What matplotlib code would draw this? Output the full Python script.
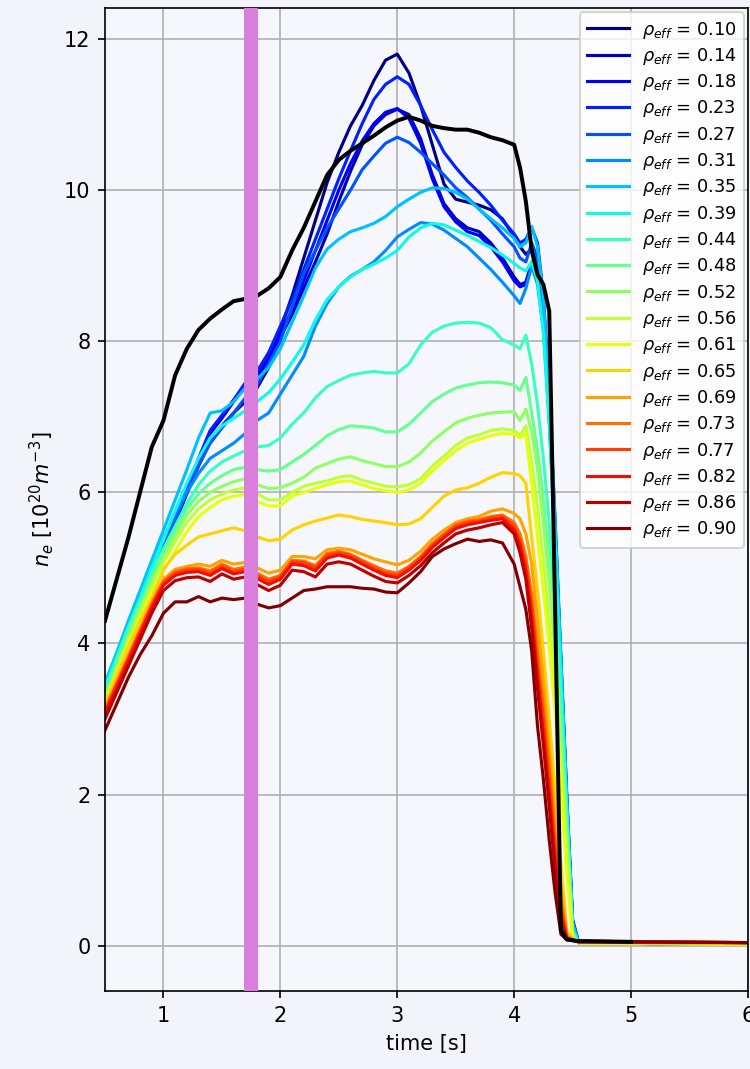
import numpy as np
import matplotlib
matplotlib.use("Agg")
import matplotlib.pyplot as plt

nan = np.nan

# time base [s]
time_s = [0.5, 0.6, 0.7, 0.8, 0.9, 1.0, 1.1, 1.2, 1.3, 1.4,
          1.5, 1.6, 1.7, 1.8, 1.9, 2.0, 2.1, 2.2, 2.3, 2.4,
          2.5, 2.6, 2.7, 2.8, 2.9, 3.0, 3.1, 3.2, 3.3, 3.4,
          3.5, 3.6, 3.7, 3.8, 3.9,
          4.0, 4.05, 4.1, 4.15, 4.2, 4.25, 4.3, 4.35, 4.4, 4.45, 4.5, 4.55, 4.6,
          5.0, 6.0]

rho_eff = [0.10, 0.14, 0.18, 0.23, 0.27, 0.31, 0.35, 0.39, 0.44, 0.48,
           0.52, 0.56, 0.61, 0.65, 0.69, 0.73, 0.77, 0.82, 0.86, 0.90]

# line integrated density (black trace)
ne_line = [4.30, 4.85, 5.40, 6.00, 6.60, 6.95, 7.55, 7.90, 8.15, 8.30,
           8.42, 8.53, 8.56, 8.60, 8.70, 8.85, 9.20, 9.50, 9.85, 10.20,
           10.40, 10.52, 10.62, 10.72, 10.83, 10.92, 10.97, 10.92, 10.85, 10.82,
           10.80, 10.80, 10.76, 10.70, 10.66,
           10.60, 10.30, 9.85, 9.20, 8.88, 8.75, 8.40, 4.50, 0.20, 0.08, 0.07, 0.06, 0.06,
           0.05, nan]

# profiles at each rho_eff
ne_010 = [3.35, 3.72, 4.10, 4.48, 4.85, 5.22, 5.60, 5.98, 6.35, 6.70,
          6.88, 7.05, 7.20, 7.38, 7.65, 8.15, 8.60, 9.10, 9.60, 10.10,
          10.50, 10.85, 11.12, 11.45, 11.72, 11.80, 11.55, 11.12, 10.60, 10.08,
          9.88, 9.84, 9.80, 9.74, 9.62,
          9.38, 9.25, 9.15, 9.22, 9.00, 8.35, 7.10, 5.50, 3.70, 1.90, 0.30, 0.05, 0.03,
          0.03, 0.02]
ne_014 = [3.32, 3.70, 4.08, 4.46, 4.84, 5.22, 5.60, 6.00, 6.40, 6.78,
          6.98, 7.20, 7.40, 7.52, 7.75, 8.05, 8.35, 8.70, 9.05, 9.42,
          9.85, 10.25, 10.60, 10.85, 11.00, 11.07, 11.00, 10.68, 10.20, 9.82,
          9.62, 9.50, 9.45, 9.30, 9.10,
          8.85, 8.75, 8.78, 9.05, 8.90, 8.30, 7.05, 5.45, 3.65, 1.85, 0.25, 0.04, 0.03,
          0.03, 0.02]
ne_018 = [3.33, 3.71, 4.09, 4.47, 4.85, 5.23, 5.62, 6.02, 6.42, 6.80,
          7.00, 7.22, 7.42, 7.55, 7.80, 8.10, 8.42, 8.80, 9.20, 9.60,
          10.00, 10.35, 10.65, 10.88, 11.03, 11.08, 10.95, 10.62, 10.15, 9.78,
          9.58, 9.45, 9.40, 9.25, 9.05,
          8.80, 8.72, 8.75, 9.00, 8.85, 8.25, 7.00, 5.40, 3.60, 1.80, 0.25, 0.04, 0.03,
          0.03, 0.02]
ne_023 = [3.34, 3.72, 4.10, 4.48, 4.86, 5.25, 5.65, 6.05, 6.45, 6.82,
          7.02, 7.22, 7.45, 7.60, 7.85, 8.20, 8.55, 8.95, 9.35, 9.75,
          10.15, 10.52, 10.88, 11.20, 11.40, 11.50, 11.40, 11.12, 10.80, 10.50,
          10.30, 10.12, 9.97, 9.80, 9.60,
          9.42, 9.30, 9.35, 9.50, 9.30, 8.60, 7.30, 5.65, 3.80, 2.00, 0.35, 0.05, 0.03,
          0.03, 0.02]
ne_027 = [3.35, 3.73, 4.11, 4.50, 4.88, 5.26, 5.63, 6.00, 6.35, 6.65,
          6.85, 7.05, 7.25, 7.42, 7.70, 8.00, 8.45, 8.90, 9.20, 9.50,
          9.75, 10.00, 10.27, 10.45, 10.62, 10.70, 10.63, 10.50, 10.35, 10.20,
          10.03, 9.90, 9.75, 9.60, 9.42,
          9.25, 9.10, 9.05, 9.30, 9.10, 8.45, 7.20, 5.55, 3.75, 1.95, 0.30, 0.04, 0.03,
          0.03, 0.02]
ne_031 = [3.40, 3.80, 4.20, 4.60, 5.00, 5.38, 5.72, 6.00, 6.25, 6.45,
          6.55, 6.65, 6.78, 6.95, 7.05, 7.30, 7.55, 7.80, 8.20, 8.50,
          8.72, 8.86, 8.95, 9.05, 9.20, 9.38, 9.48, 9.57, 9.55, 9.47,
          9.36, 9.25, 9.10, 8.95, 8.78,
          8.60, 8.50, 8.70, 9.00, 8.75, 8.15, 6.95, 5.35, 3.55, 1.75, 0.20, 0.04, 0.03,
          0.03, 0.02]
ne_035 = [3.48, 3.88, 4.30, 4.70, 5.10, 5.50, 5.90, 6.30, 6.72, 7.05,
          7.08, 7.20, 7.38, 7.50, 7.65, 7.90, 8.25, 8.60, 8.97, 9.22,
          9.35, 9.45, 9.50, 9.56, 9.65, 9.78, 9.88, 9.97, 10.03, 10.02,
          9.97, 9.88, 9.75, 9.62, 9.50,
          9.36, 9.25, 9.30, 9.52, 9.25, 8.55, 7.25, 5.60, 3.80, 1.95, 0.30, 0.04, 0.03,
          0.03, 0.02]
ne_039 = [3.42, 3.82, 4.22, 4.60, 5.00, 5.38, 5.76, 6.12, 6.45, 6.72,
          6.88, 6.98, 7.08, 7.20, 7.32, 7.50, 7.72, 7.95, 8.28, 8.55,
          8.72, 8.85, 8.95, 9.02, 9.10, 9.20, 9.38, 9.50, 9.56, 9.54,
          9.47, 9.40, 9.32, 9.24, 9.14,
          9.03, 8.97, 8.93, 9.05, 8.80, 8.10, 6.90, 5.30, 3.55, 1.80, 0.20, 0.04, 0.03,
          0.03, 0.02]
ne_044 = [3.36, 3.78, 4.20, 4.55, 4.92, 5.25, 5.55, 5.85, 6.10, 6.28,
          6.40, 6.48, 6.55, 6.60, 6.62, 6.72, 6.90, 7.05, 7.25, 7.40,
          7.48, 7.55, 7.58, 7.60, 7.58, 7.58, 7.70, 7.95, 8.12, 8.20,
          8.24, 8.25, 8.24, 8.18, 8.02,
          7.95, 7.90, 8.08, 7.70, 7.15, 6.45, 5.60, 4.50, 3.20, 1.70, 0.20, 0.04, 0.03,
          0.03, 0.02]
ne_048 = [3.30, 3.72, 4.12, 4.50, 4.86, 5.20, 5.50, 5.78, 5.98, 6.12,
          6.22, 6.30, 6.33, 6.30, 6.28, 6.30, 6.40, 6.50, 6.62, 6.75,
          6.83, 6.88, 6.87, 6.85, 6.80, 6.80, 6.90, 7.05, 7.20, 7.30,
          7.38, 7.42, 7.45, 7.46, 7.45,
          7.42, 7.35, 7.52, 7.05, 6.55, 5.90, 5.10, 4.10, 2.90, 1.50, 0.15, 0.04, 0.03,
          0.03, 0.02]
ne_052 = [3.27, 3.68, 4.08, 4.45, 4.80, 5.12, 5.42, 5.70, 5.88, 6.00,
          6.08, 6.14, 6.18, 6.10, 6.05, 6.06, 6.12, 6.20, 6.32, 6.38,
          6.44, 6.47, 6.42, 6.38, 6.34, 6.34, 6.40, 6.52, 6.68, 6.80,
          6.92, 6.98, 7.02, 7.05, 7.06,
          7.07, 6.95, 7.10, 6.80, 6.30, 5.60, 4.80, 3.90, 2.70, 1.35, 0.12, 0.04, 0.03,
          0.03, 0.02]
ne_056 = [3.24, 3.64, 4.03, 4.40, 4.75, 5.07, 5.35, 5.60, 5.78, 5.90,
          5.98, 6.03, 6.06, 5.98, 5.90, 5.90, 6.00, 6.08, 6.12, 6.15,
          6.20, 6.22, 6.16, 6.12, 6.08, 6.07, 6.10, 6.18, 6.35, 6.48,
          6.62, 6.72, 6.76, 6.82, 6.84,
          6.82, 6.75, 6.88, 6.40, 5.80, 5.10, 4.30, 3.45, 2.40, 1.15, 0.10, 0.04, 0.03,
          0.03, 0.02]
ne_061 = [3.22, 3.60, 3.98, 4.33, 4.66, 4.96, 5.22, 5.48, 5.68, 5.80,
          5.90, 5.95, 5.97, 5.88, 5.82, 5.82, 5.95, 6.00, 6.05, 6.10,
          6.14, 6.15, 6.10, 6.05, 6.02, 6.00, 6.03, 6.12, 6.28, 6.42,
          6.55, 6.65, 6.70, 6.75, 6.78,
          6.77, 6.72, 6.78, 6.10, 5.40, 4.70, 3.95, 3.10, 2.10, 0.95, 0.10, 0.04, 0.03,
          0.03, 0.02]
ne_065 = [3.20, 3.58, 3.95, 4.30, 4.60, 4.98, 5.18, 5.30, 5.41, 5.45,
          5.49, 5.53, 5.49, 5.41, 5.36, 5.38, 5.50, 5.57, 5.62, 5.66,
          5.70, 5.68, 5.64, 5.62, 5.60, 5.57, 5.58, 5.65, 5.80, 5.95,
          6.03, 6.06, 6.12, 6.20, 6.26,
          6.25, 6.22, 6.12, 5.40, 4.70, 3.90, 3.00, 2.10, 1.10, 0.20, 0.08, 0.05, 0.04,
          0.04, 0.03]
ne_069 = [3.15, 3.50, 3.85, 4.20, 4.55, 4.85, 4.98, 5.02, 5.05, 5.02,
          5.10, 5.05, 5.07, 5.00, 4.93, 4.97, 5.15, 5.15, 5.12, 5.24,
          5.26, 5.24, 5.18, 5.12, 5.08, 5.04, 5.10, 5.22, 5.38, 5.50,
          5.60, 5.65, 5.68, 5.75, 5.78,
          5.72, 5.65, 5.45, 5.05, 4.30, 3.50, 2.60, 1.70, 0.80, 0.15, 0.08, 0.05, 0.05,
          0.04, 0.03]
ne_073 = [3.12, 3.47, 3.82, 4.17, 4.52, 4.82, 4.95, 4.99, 5.00, 4.96,
          5.05, 4.98, 5.01, 4.93, 4.85, 4.90, 5.10, 5.09, 5.03, 5.19,
          5.22, 5.18, 5.10, 5.03, 4.96, 4.93, 5.02, 5.15, 5.32, 5.45,
          5.57, 5.62, 5.64, 5.68, 5.70,
          5.60, 5.45, 5.15, 4.65, 3.90, 3.15, 2.35, 1.45, 0.60, 0.12, 0.08, 0.05, 0.05,
          0.05, 0.04]
ne_077 = [3.10, 3.45, 3.80, 4.15, 4.50, 4.80, 4.93, 4.97, 4.98, 4.93,
          5.02, 4.95, 4.98, 4.90, 4.82, 4.88, 5.08, 5.07, 5.00, 5.17,
          5.20, 5.16, 5.08, 5.00, 4.93, 4.90, 5.00, 5.13, 5.30, 5.43,
          5.55, 5.60, 5.62, 5.66, 5.68,
          5.55, 5.35, 5.05, 4.50, 3.70, 3.00, 2.20, 1.30, 0.50, 0.10, 0.08, 0.05, 0.05,
          0.05, 0.04]
ne_082 = [3.07, 3.42, 3.77, 4.12, 4.47, 4.77, 4.90, 4.94, 4.95, 4.90,
          4.99, 4.92, 4.95, 4.86, 4.78, 4.85, 5.05, 5.03, 4.96, 5.13,
          5.17, 5.13, 5.05, 4.97, 4.90, 4.87, 4.97, 5.10, 5.27, 5.40,
          5.52, 5.57, 5.60, 5.63, 5.65,
          5.50, 5.30, 4.95, 4.35, 3.55, 2.80, 2.00, 1.15, 0.40, 0.10, 0.07, 0.05, 0.05,
          0.05, 0.04]
ne_086 = [3.00, 3.35, 3.70, 4.05, 4.40, 4.70, 4.83, 4.87, 4.88, 4.82,
          4.92, 4.85, 4.88, 4.78, 4.70, 4.77, 4.97, 4.95, 4.88, 5.05,
          5.08, 5.05, 4.97, 4.89, 4.82, 4.80, 4.90, 5.03, 5.20, 5.33,
          5.45, 5.50, 5.53, 5.57, 5.60,
          5.45, 5.20, 4.85, 4.20, 3.40, 2.65, 1.85, 1.00, 0.30, 0.10, 0.07, 0.05, 0.05,
          0.05, 0.04]
ne_090 = [2.85, 3.20, 3.55, 3.85, 4.10, 4.40, 4.55, 4.55, 4.62, 4.55,
          4.60, 4.58, 4.60, 4.52, 4.47, 4.50, 4.60, 4.70, 4.72, 4.75,
          4.75, 4.75, 4.73, 4.72, 4.68, 4.67, 4.80, 4.95, 5.15, 5.25,
          5.32, 5.38, 5.35, 5.37, 5.33,
          5.05, 4.75, 4.45, 3.90, 2.90, 2.20, 1.40, 0.70, 0.15, 0.08, 0.07, 0.06, 0.06,
          0.05, 0.04]

profiles = [ne_010, ne_014, ne_018, ne_023, ne_027, ne_031, ne_035, ne_039,
            ne_044, ne_048, ne_052, ne_056, ne_061, ne_065, ne_069, ne_073,
            ne_077, ne_082, ne_086, ne_090]

# window marked on the time axis
t_mark = (1.69, 1.81)

fig = plt.figure(figsize=(5, 1069 / 150), dpi=150, facecolor='#f3f4fb')
ax = fig.add_axes([0.14, 0.073, 0.8573, 0.9195])
ax.set_facecolor('#f6f7fd')

colors = plt.cm.jet(np.linspace(0, 1, len(profiles)))
for rho, ne, c in zip(rho_eff, profiles, colors):
    ax.plot(time_s, ne, color=c, lw=1.5, label=r'$\rho_{eff}$ = %.2f' % rho)

ax.plot(time_s, ne_line, color='k', lw=1.9)

ax.axvspan(*t_mark, color='#da7ede', lw=0, zorder=3)

ax.set_xlim(0.5, 6)
ax.set_ylim(-0.6, 12.41)
ax.set_xticks([1, 2, 3, 4, 5, 6])
ax.set_yticks([0, 2, 4, 6, 8, 10, 12])
ax.grid(True)
ax.set_xlabel('time [s]')
ax.set_ylabel(r'$n_e$ [$10^{20}m^{-3}$]')

ax.legend(loc='upper right', fontsize=8.5, labelspacing=0.3,
          handlelength=2.4, handletextpad=0.7, borderaxespad=0.25)

fig.savefig('out.png', dpi=150, facecolor=fig.get_facecolor())
